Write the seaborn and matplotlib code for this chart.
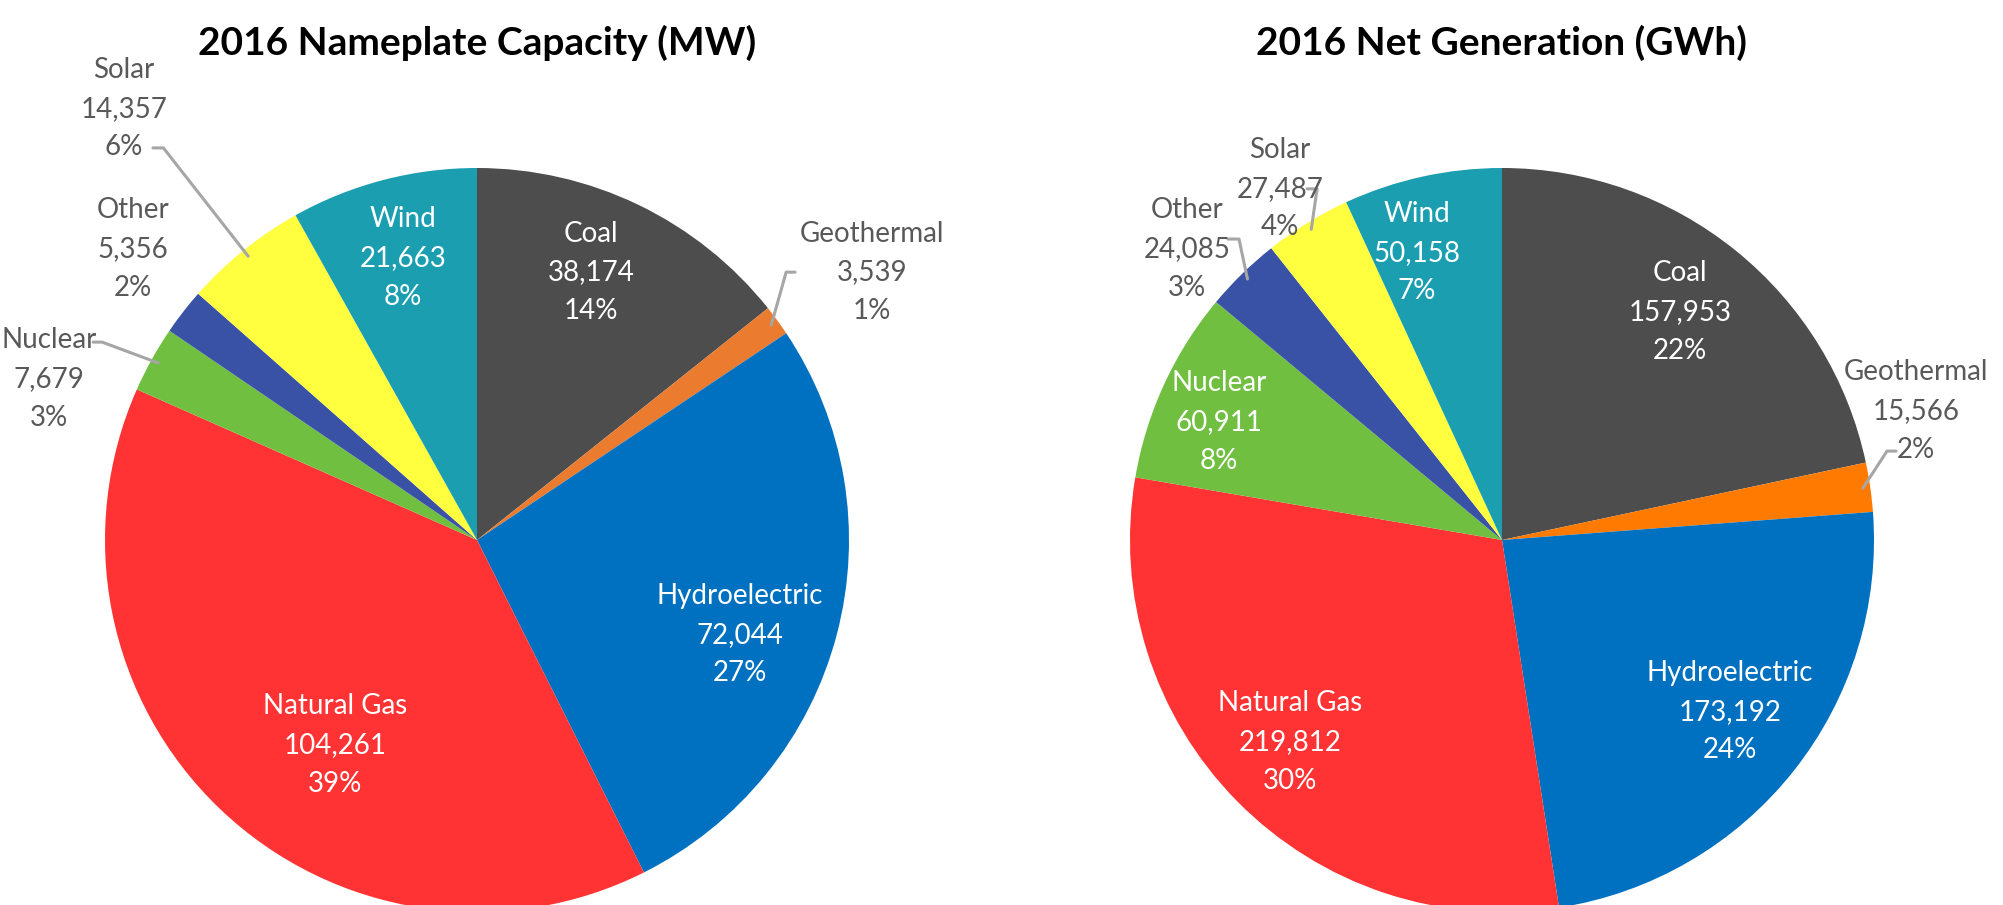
# plot.py
# Two pies: 2016 nameplate capacity (MW) and 2016 net generation (GWh) by source.

import matplotlib
matplotlib.use('Agg')
import matplotlib.pyplot as plt
import numpy as np
import seaborn as sns

sources = ['Coal', 'Geothermal', 'Hydroelectric', 'Natural Gas', 'Nuclear', 'Other', 'Solar', 'Wind']
capacity_mw = [38174, 3539, 72044, 104261, 7679, 5356, 14357, 21663]
capacity_pct = [14, 1, 27, 39, 3, 2, 6, 8]
generation_gwh = [157953, 15566, 173192, 219812, 60911, 24085, 27487, 50158]
generation_pct = [22, 2, 24, 30, 8, 3, 4, 7]

sns.set_style('white')
plt.rcParams['font.family'] = ['Lato', 'DejaVu Sans']

colors_left = ['#4D4D4D', '#EB7B2E', '#0070C0', '#FF3333', '#70BF41', '#3A52A6', '#FFFF3F', '#1A9EB0']
colors_right = ['#4D4D4D', '#FF7A00', '#0070C0', '#FF3333', '#70BF41', '#3A52A6', '#FFFF3F', '#1A9EB0']

W, H = 2003, 905
R = 372.0  # pie radius in pixels
CY = 540.0  # pie centre from top, pixels

fig = plt.figure(figsize=(W / 100, H / 100), dpi=100)

# label centres (data units, pie radius = 1) and which labels are dark/outside
left_pos = {'Coal': (0.306, 0.72), 'Geothermal': (1.062, 0.72), 'Hydroelectric': (0.707, -0.255),
            'Natural Gas': (-0.382, -0.551), 'Nuclear': (-1.151, 0.433), 'Other': (-0.925, 0.782),
            'Solar': (-0.949, 1.159), 'Wind': (-0.199, 0.758)}
right_pos = {'Coal': (0.478, 0.613), 'Geothermal': (1.113, 0.347), 'Hydroelectric': (0.613, -0.462),
             'Natural Gas': (-0.57, -0.543), 'Nuclear': (-0.761, 0.317), 'Other': (-0.847, 0.782),
             'Solar': (-0.597, 0.944), 'Wind': (-0.228, 0.772)}
left_outside = ['Geothermal', 'Nuclear', 'Other', 'Solar']
right_outside = ['Geothermal', 'Other', 'Solar']

# leader lines: start near the text, short elbow, then into the wedge
left_leaders = {'Solar': [(-0.871, 1.054), (-0.843, 1.054)],
                'Geothermal': [(0.855, 0.72), (0.831, 0.72)],
                'Nuclear': [(-1.032, 0.532), (-1.008, 0.532)]}
right_leaders = {'Geothermal': [(1.059, 0.239), (1.035, 0.239)],
                 'Other': [(-0.737, 0.809), (-0.707, 0.809)],
                 'Solar': [(-0.524, 0.944), (-0.497, 0.944)]}


def draw_pie(x0, x1, cx, values, pcts, colors, pos, outside, leaders, title):
    ax = fig.add_axes([x0 / W, 0, (x1 - x0) / W, 1])
    wedges, _ = ax.pie(values, colors=colors, startangle=90, counterclock=False, radius=1,
                       wedgeprops=dict(linewidth=0))
    ax.set_xlim((x0 - cx) / R, (x1 - cx) / R)
    ax.set_ylim(-(H - CY) / R, CY / R)
    ax.set_aspect('equal')
    ax.axis('off')
    for name, v, p, w in zip(sources, values, pcts, wedges):
        x, y = pos[name]
        col = '#595959' if name in outside else 'white'
        ax.text(x, y, f'{name}\n{v:,}\n{p}%', ha='center', va='center', fontsize=20,
                color=col, linespacing=1.6)
        if name in leaders:
            ang = np.deg2rad((w.theta1 + w.theta2) / 2)
            pts = leaders[name] + [(0.98 * np.cos(ang), 0.98 * np.sin(ang))]
            xs, ys = zip(*pts)
            ax.plot(xs, ys, color='#A6A6A6', lw=2.2, solid_capstyle='round')
    fig.text(cx / W, 1 - 43 / H, title, ha='center', va='center', fontsize=28,
             fontweight='bold', color='black')


draw_pie(0, 1001, 477, capacity_mw, capacity_pct, colors_left, left_pos, left_outside,
         left_leaders, '2016 Nameplate Capacity (MW)')
draw_pie(1001, W, 1502, generation_gwh, generation_pct, colors_right, right_pos, right_outside,
         right_leaders, '2016 Net Generation (GWh)')

plt.savefig('out.png', dpi=100, facecolor='white')
